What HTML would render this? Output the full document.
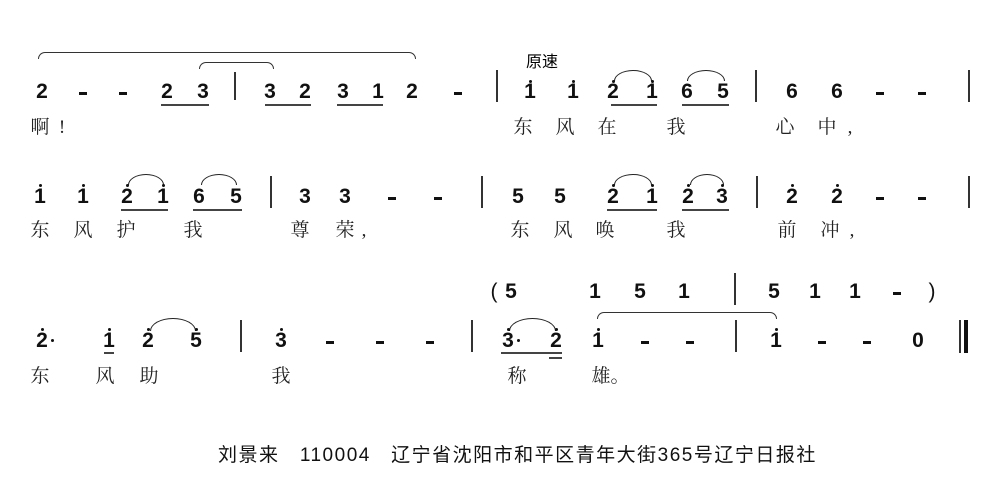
<!DOCTYPE html>
<html><head><meta charset="utf-8"><style>
body{margin:0;width:988px;height:490px;background:#fff;position:relative;overflow:hidden}
.n{position:absolute;width:24px;margin-left:-12px;text-align:center;font:bold 21px "Liberation Sans",sans-serif;line-height:22px;color:#111}
.l{position:absolute;width:24px;margin-left:-12px;text-align:center;font:19px "Liberation Serif","Noto Serif CJK SC",serif;line-height:22px;color:#222}
.d{position:absolute;width:3px;height:3px;border-radius:50%;background:#111;margin-left:-1px}
.b{position:absolute;width:2px;background:#333}
.u{position:absolute;height:2px;background:#444}
.h{position:absolute;width:8px;height:3px;margin-left:-4px;background:#111}
.a{position:absolute;border:1.5px solid #222;border-bottom:none;border-radius:50% 50% 0 0/100% 100% 0 0}
.w{position:absolute;border-top:1.5px solid #333;border-radius:10px 10px 0 0;border-left:1.5px solid #333;border-right:1.5px solid #333;height:6px}
</style></head><body>
<!-- Row 1 -->
<div class="w" style="left:38px;top:52px;width:376px"></div>
<div class="w" style="left:199px;top:62px;width:73px;border-radius:12px 12px 0 0"></div>
<div class="n" style="left:42px;top:81px">2</div>
<div class="h" style="left:83px;top:92px"></div>
<div class="h" style="left:123px;top:92px"></div>
<div class="n" style="left:167px;top:81px">2</div>
<div class="n" style="left:203px;top:81px">3</div>
<div class="u" style="left:161px;top:104px;width:48px"></div>
<div class="b" style="left:234px;top:72px;height:28px"></div>
<div class="n" style="left:270px;top:81px">3</div>
<div class="n" style="left:305px;top:81px">2</div>
<div class="u" style="left:265px;top:104px;width:46px"></div>
<div class="n" style="left:343px;top:81px">3</div>
<div class="n" style="left:378px;top:81px">1</div>
<div class="u" style="left:337px;top:104px;width:46px"></div>
<div class="n" style="left:412px;top:81px">2</div>
<div class="h" style="left:458px;top:92px"></div>
<div class="b" style="left:496px;top:70px;height:32px"></div>
<div style="position:absolute;left:526px;top:48px;font:16px 'Liberation Sans','Noto Sans CJK SC',sans-serif">原速</div>
<div class="n" style="left:530px;top:81px">1</div><div class="d" style="left:530px;top:80px"></div>
<div class="n" style="left:573px;top:81px">1</div><div class="d" style="left:573px;top:80px"></div>
<div class="a" style="left:614px;top:70px;width:36px;height:10px"></div>
<div class="n" style="left:613px;top:81px">2</div><div class="d" style="left:613px;top:80px"></div>
<div class="n" style="left:652px;top:81px">1</div><div class="d" style="left:652px;top:80px"></div>
<div class="u" style="left:611px;top:104px;width:46px"></div>
<div class="a" style="left:687px;top:70px;width:36px;height:10px"></div>
<div class="n" style="left:687px;top:81px">6</div>
<div class="n" style="left:723px;top:81px">5</div>
<div class="u" style="left:682px;top:104px;width:47px"></div>
<div class="b" style="left:755px;top:70px;height:32px"></div>
<div class="n" style="left:792px;top:81px">6</div>
<div class="n" style="left:837px;top:81px">6</div>
<div class="h" style="left:880px;top:92px"></div>
<div class="h" style="left:922px;top:92px"></div>
<div class="b" style="left:968px;top:70px;height:32px"></div>
<div class="l" style="left:40px;top:117px">啊</div><div class="l" style="left:62px;top:117px">!</div>
<div class="l" style="left:523px;top:117px">东</div><div class="l" style="left:565px;top:117px">风</div><div class="l" style="left:607px;top:117px">在</div><div class="l" style="left:676px;top:117px">我</div><div class="l" style="left:785px;top:117px">心</div><div class="l" style="left:827px;top:117px">中</div><div class="l" style="left:850px;top:117px">,</div>
<!-- Row 2 -->
<div class="n" style="left:40px;top:186px">1</div><div class="d" style="left:40px;top:184px"></div>
<div class="n" style="left:83px;top:186px">1</div><div class="d" style="left:83px;top:184px"></div>
<div class="a" style="left:128px;top:174px;width:34px;height:10px"></div>
<div class="n" style="left:127px;top:186px">2</div><div class="d" style="left:127px;top:184px"></div>
<div class="n" style="left:163px;top:186px">1</div><div class="d" style="left:163px;top:184px"></div>
<div class="u" style="left:121px;top:209px;width:47px"></div>
<div class="a" style="left:201px;top:174px;width:34px;height:10px"></div>
<div class="n" style="left:199px;top:186px">6</div>
<div class="n" style="left:236px;top:186px">5</div>
<div class="u" style="left:193px;top:209px;width:49px"></div>
<div class="b" style="left:270px;top:176px;height:32px"></div>
<div class="n" style="left:305px;top:186px">3</div>
<div class="n" style="left:345px;top:186px">3</div>
<div class="h" style="left:392px;top:197px"></div>
<div class="h" style="left:438px;top:197px"></div>
<div class="b" style="left:481px;top:176px;height:32px"></div>
<div class="n" style="left:518px;top:186px">5</div>
<div class="n" style="left:560px;top:186px">5</div>
<div class="a" style="left:614px;top:174px;width:36px;height:10px"></div>
<div class="n" style="left:613px;top:186px">2</div><div class="d" style="left:613px;top:184px"></div>
<div class="n" style="left:652px;top:186px">1</div><div class="d" style="left:652px;top:184px"></div>
<div class="u" style="left:607px;top:209px;width:50px"></div>
<div class="a" style="left:690px;top:174px;width:32px;height:10px"></div>
<div class="n" style="left:688px;top:186px">2</div><div class="d" style="left:688px;top:184px"></div>
<div class="n" style="left:722px;top:186px">3</div><div class="d" style="left:722px;top:184px"></div>
<div class="u" style="left:682px;top:209px;width:47px"></div>
<div class="b" style="left:756px;top:176px;height:32px"></div>
<div class="n" style="left:792px;top:186px">2</div><div class="d" style="left:792px;top:184px"></div>
<div class="n" style="left:837px;top:186px">2</div><div class="d" style="left:837px;top:184px"></div>
<div class="h" style="left:880px;top:197px"></div>
<div class="h" style="left:922px;top:197px"></div>
<div class="b" style="left:968px;top:176px;height:32px"></div>
<div class="l" style="left:40px;top:220px">东</div><div class="l" style="left:83px;top:220px">风</div><div class="l" style="left:126px;top:220px">护</div><div class="l" style="left:193px;top:220px">我</div><div class="l" style="left:300px;top:220px">尊</div><div class="l" style="left:345px;top:220px">荣</div><div class="l" style="left:364px;top:220px">,</div>
<div class="l" style="left:520px;top:220px">东</div><div class="l" style="left:563px;top:220px">风</div><div class="l" style="left:605px;top:220px">唤</div><div class="l" style="left:676px;top:220px">我</div><div class="l" style="left:787px;top:220px">前</div><div class="l" style="left:830px;top:220px">冲</div><div class="l" style="left:852px;top:220px">,</div>
<!-- Row 3 intro -->
<div class="n" style="left:494px;top:281px;font-weight:normal">(</div>
<div class="n" style="left:511px;top:281px">5</div>
<div class="n" style="left:595px;top:281px">1</div>
<div class="n" style="left:640px;top:281px">5</div>
<div class="n" style="left:684px;top:281px">1</div>
<div class="b" style="left:734px;top:273px;height:32px"></div>
<div class="n" style="left:774px;top:281px">5</div>
<div class="n" style="left:815px;top:281px">1</div>
<div class="n" style="left:855px;top:281px">1</div>
<div class="h" style="left:897px;top:292px"></div>
<div class="n" style="left:932px;top:281px;font-weight:normal">)</div>
<!-- Row 3 -->
<div class="n" style="left:42px;top:330px">2</div><div class="d" style="left:42px;top:328px"></div><div class="d" style="left:52px;top:339px"></div>
<div class="n" style="left:109px;top:330px">1</div><div class="d" style="left:109px;top:328px"></div>
<div class="u" style="left:104px;top:352px;width:10px"></div>
<div class="a" style="left:150px;top:318px;width:44px;height:12px"></div>
<div class="n" style="left:148px;top:330px">2</div><div class="d" style="left:148px;top:328px"></div>
<div class="n" style="left:196px;top:330px">5</div><div class="d" style="left:196px;top:328px"></div>
<div class="b" style="left:240px;top:320px;height:32px"></div>
<div class="n" style="left:281px;top:330px">3</div><div class="d" style="left:281px;top:328px"></div>
<div class="h" style="left:330px;top:341px"></div>
<div class="h" style="left:380px;top:341px"></div>
<div class="h" style="left:430px;top:341px"></div>
<div class="b" style="left:471px;top:320px;height:32px"></div>
<div class="a" style="left:509px;top:318px;width:45px;height:12px"></div>
<div class="n" style="left:508px;top:330px">3</div><div class="d" style="left:508px;top:328px"></div><div class="d" style="left:518px;top:339px"></div>
<div class="n" style="left:556px;top:330px">2</div><div class="d" style="left:556px;top:328px"></div>
<div class="u" style="left:501px;top:352px;width:61px"></div>
<div class="u" style="left:549px;top:357px;width:13px"></div>
<div class="w" style="left:597px;top:312px;width:178px;border-radius:8px 8px 0 0"></div>
<div class="n" style="left:598px;top:330px">1</div><div class="d" style="left:598px;top:328px"></div>
<div class="h" style="left:645px;top:341px"></div>
<div class="h" style="left:690px;top:341px"></div>
<div class="b" style="left:735px;top:320px;height:32px"></div>
<div class="n" style="left:776px;top:330px">1</div><div class="d" style="left:776px;top:328px"></div>
<div class="h" style="left:822px;top:341px"></div>
<div class="h" style="left:867px;top:341px"></div>
<div class="n" style="left:918px;top:330px">0</div>
<div class="b" style="left:959px;top:320px;height:33px;width:2px"></div>
<div class="b" style="left:964px;top:320px;height:33px;width:4px;background:#111"></div>
<div class="l" style="left:40px;top:366px">东</div><div class="l" style="left:105px;top:366px">风</div><div class="l" style="left:149px;top:366px">助</div><div class="l" style="left:281px;top:366px">我</div><div class="l" style="left:517px;top:366px">称</div><div class="l" style="left:601px;top:366px">雄</div><div class="l" style="left:620px;top:366px">。</div>
<!-- footer -->
<div style="position:absolute;left:218px;top:440px;font:19px 'Liberation Sans','Noto Sans CJK SC',sans-serif;letter-spacing:1.5px;white-space:pre;color:#111">刘景来   110004   辽宁省沈阳市和平区青年大街365号辽宁日报社</div>
</body></html>
